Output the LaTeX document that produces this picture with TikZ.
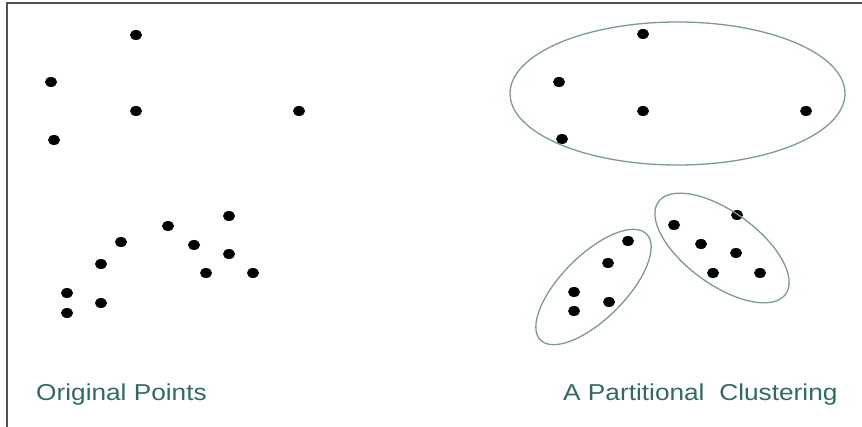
\documentclass[tikz,border=0pt]{standalone}
\usepackage{fontspec}
\setmainfont{Liberation Sans}
\usetikzlibrary{shapes.geometric}
\definecolor{labelteal}{RGB}{50,105,100}
\definecolor{clusgray}{RGB}{125,152,150}
\definecolor{framegray}{RGB}{80,80,80}
\tikzset{
  pt/.style={ellipse, fill=black, draw=none, minimum width=12pt, minimum height=10pt, inner sep=0pt},
  clus/.style={draw=clusgray, line width=1.3pt},
  lbl/.style={anchor=base west, text=labelteal, font=\fontsize{23pt}{26pt}\selectfont, inner sep=0pt, xscale=1.14},
}
\begin{document}
\begin{tikzpicture}[x=1pt,y=-1pt]
\useasboundingbox (0,0) rectangle (862,427);
% frame
\draw[framegray, line width=2pt] (7,427) -- (7,3) -- (862,3);
% original points
\node[pt] (a1) at (136,35) {};
\node[pt] (a2) at (51,82) {};
\node[pt] (a3) at (136,111) {};
\node[pt] (a4) at (299,111) {};
\node[pt] (a5) at (54,140) {};
\node[pt] (b1) at (229,216) {};
\node[pt] (b2) at (168,226) {};
\node[pt] (b3) at (121,242) {};
\node[pt] (b4) at (194,245) {};
\node[pt] (b5) at (229,254) {};
\node[pt] (b6) at (101,264) {};
\node[pt] (b7) at (206,273) {};
\node[pt] (b8) at (253,273) {};
\node[pt] (b9) at (67,293) {};
\node[pt] (b10) at (101,303) {};
\node[pt] (b11) at (67,313) {};
% clustered points
\node[pt] (c1) at (643,34) {};
\node[pt] (c2) at (559,82) {};
\node[pt] (c3) at (643,111) {};
\node[pt] (c4) at (806,111) {};
\node[pt] (c5) at (562,139) {};
\node[pt] (d1) at (628,241) {};
\node[pt] (d2) at (608,263) {};
\node[pt] (d3) at (574,292) {};
\node[pt] (d4) at (609,302) {};
\node[pt] (d5) at (574,311) {};
\node[pt] (e1) at (674,225) {};
\node[pt] (e2) at (737,215) {};
\node[pt] (e3) at (701,244) {};
\node[pt] (e4) at (736,253) {};
\node[pt] (e5) at (713,273) {};
\node[pt] (e6) at (760,273) {};
% cluster outlines
\draw[clus] (677.5,93.5) ellipse [x radius=167.5, y radius=71.5];
\draw[clus] (593.5,287) ellipse [x radius=75, y radius=32, rotate=45];
\draw[clus] (722,248) ellipse [x radius=78.6, y radius=36.5, rotate=-36];
% labels
\node[lbl] (l1) at (36,401) {Original Points};
\node[lbl] (l2) at (563,401) {A Partitional\hspace{13pt}Clustering};
\end{tikzpicture}
\end{document}
